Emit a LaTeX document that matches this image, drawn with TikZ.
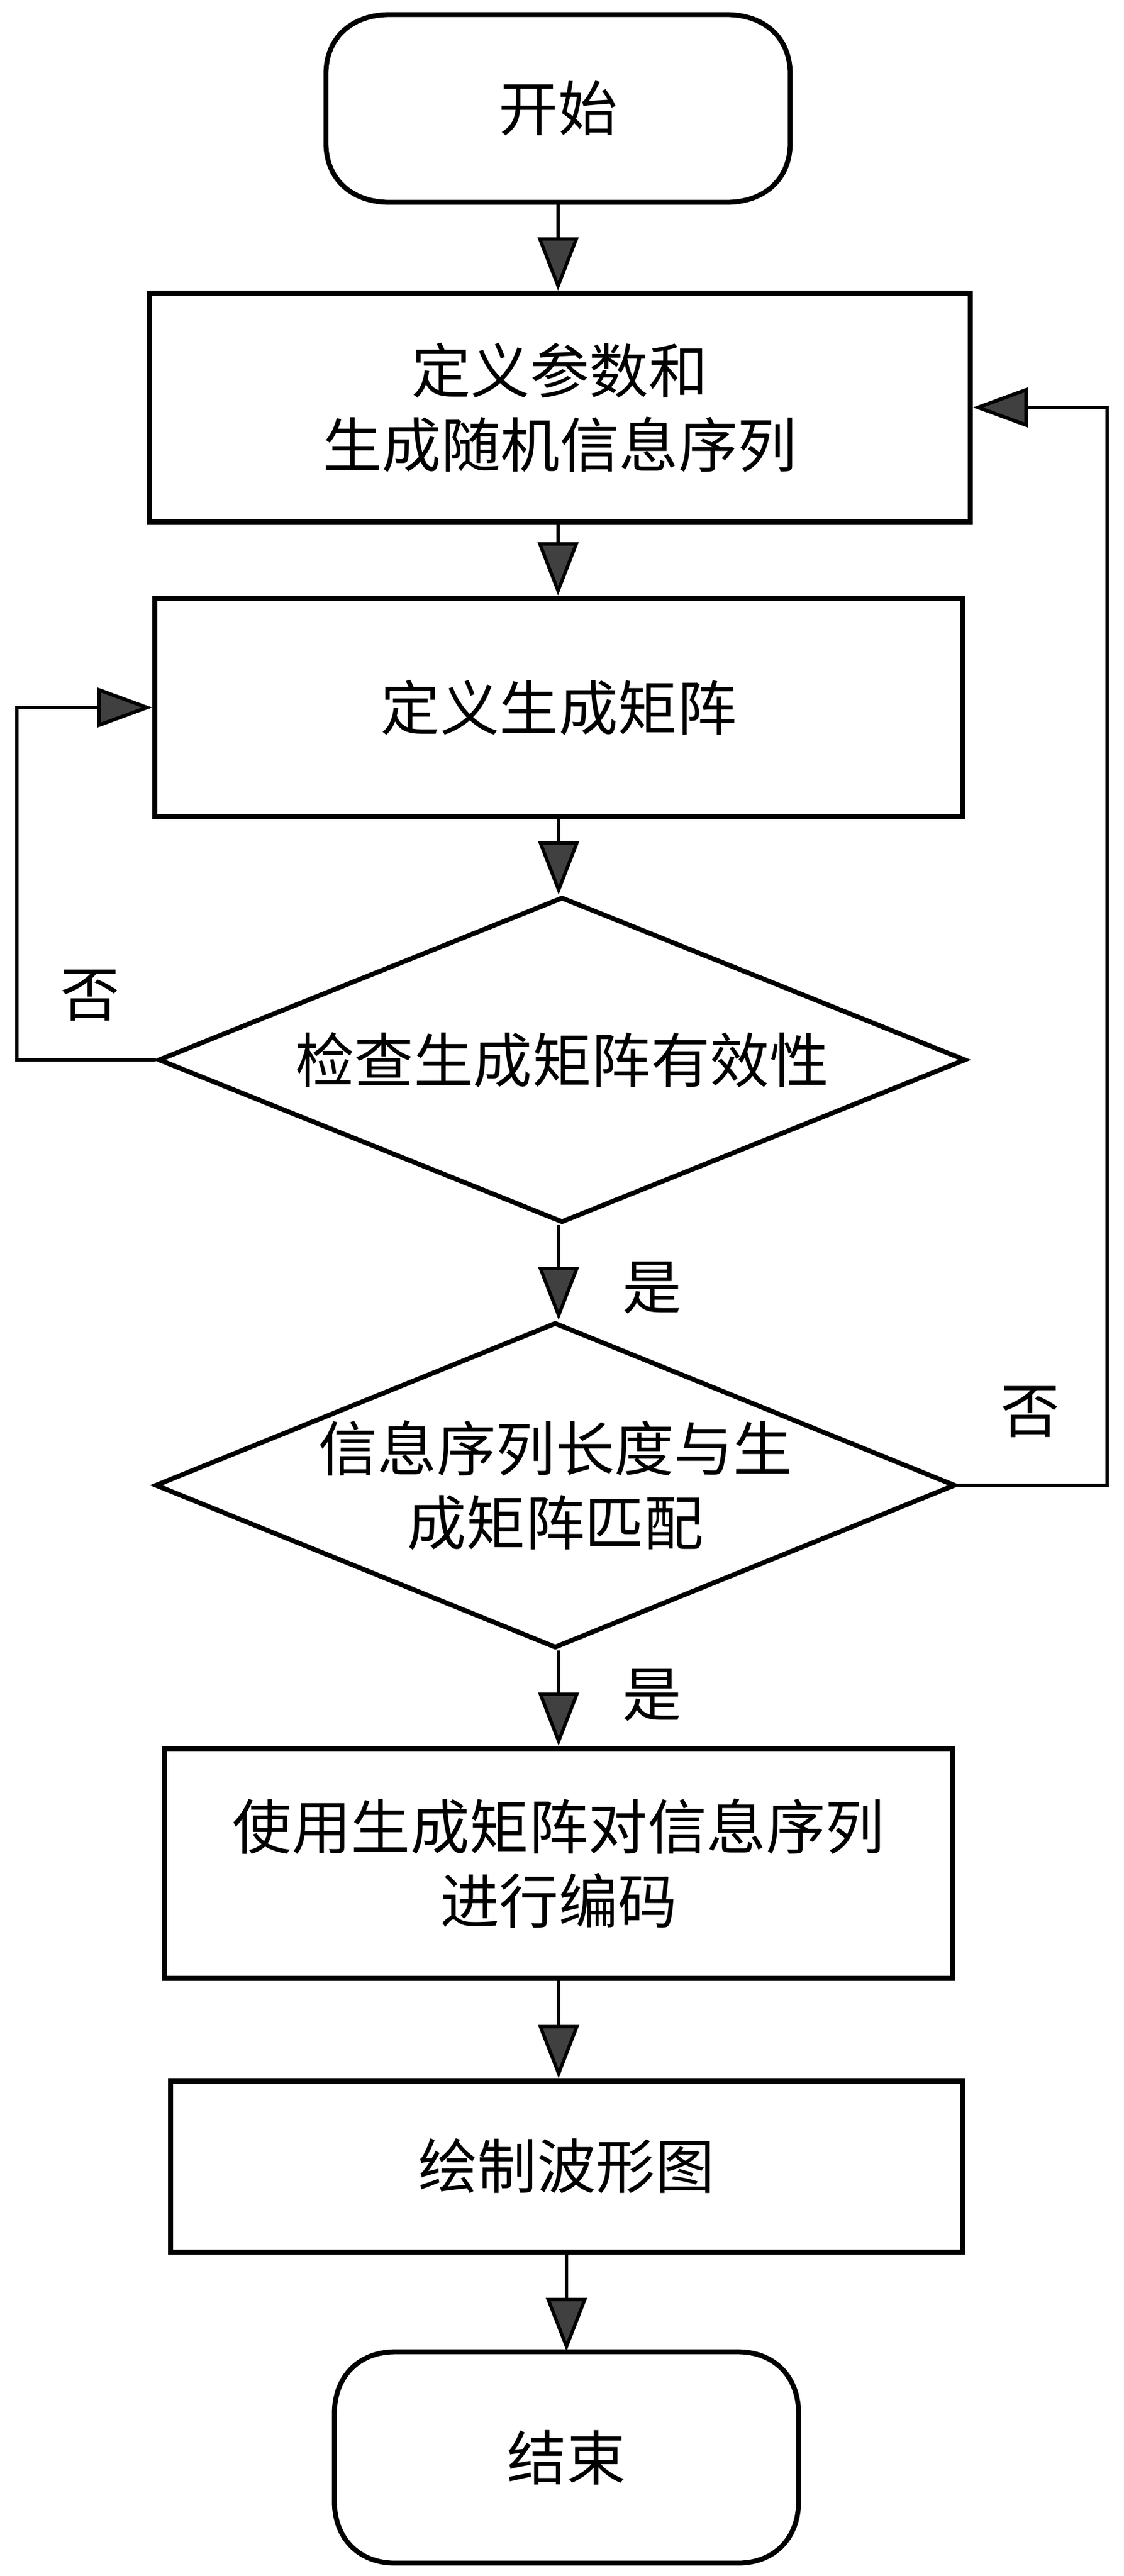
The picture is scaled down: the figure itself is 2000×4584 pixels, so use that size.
\documentclass[tikz,border=0pt]{standalone}
\usepackage{fontspec}
\setmainfont{Noto Sans CJK SC}
\usetikzlibrary{arrows.meta,shapes.geometric}
% #1 node, #2 half width W, #3 half height H, #4 half flat F, #5 corner height R
\newcommand{\barrelshape}[5]{%
  \begin{scope}[shift={(#1.center)}]
    \draw[line width=2.5pt] (-#4,-#3) -- (#4,-#3)
      .. controls (#4+0.6*#2-0.6*#4,-#3) and (#2,-#3+0.4*#5) .. (#2,-#3+#5)
      -- (#2,#3-#5)
      .. controls (#2,#3-0.4*#5) and (#4+0.6*#2-0.6*#4,#3) .. (#4,#3)
      -- (-#4,#3)
      .. controls (-#4-0.6*#2+0.6*#4,#3) and (-#2,#3-0.4*#5) .. (-#2,#3-#5)
      -- (-#2,-#3+#5)
      .. controls (-#2,-#3+0.4*#5) and (-#4-0.6*#2+0.6*#4,-#3) .. cycle;
  \end{scope}}
\begin{document}
\begin{tikzpicture}[x=0.01cm,y=-0.01cm,
  every node/.style={font=\fontsize{30pt}{37.5pt}\selectfont, inner sep=0pt, align=center},
  proc/.style={draw, line width=2.6pt, rectangle},
  dec/.style={draw, line width=2.4pt, diamond, shape aspect=2.48},
  term/.style={},
  conn/.style={line width=1.7pt, -{Triangle[length=0.95cm,width=0.72cm,fill=black!75]}},
  loopline/.style={line width=1.8pt, -{Triangle[length=0.98cm,width=0.7cm,fill=black!75]}}]
\useasboundingbox (0,0) rectangle (2000,4584);
\fill[white] (0,0) rectangle (2000,4584);

\node[term, minimum width=8.26cm, minimum height=3.34cm] (s) at (993,193) {开始};
\barrelshape{s}{413}{167}{300}{105}

\node[proc, minimum width=14.6cm, minimum height=4.06cm] (b1) at (996,725) {定义参数和\\生成随机信息序列};
\node[proc, minimum width=14.36cm, minimum height=3.89cm] (b2) at (994,1259) {定义生成矩阵};
\node[dec, minimum width=14.36cm, minimum height=5.79cm] (d1) at (1000,1886) {检查生成矩阵有效性};
\node[dec, minimum width=14.23cm, minimum height=5.79cm] (d2) at (988,2643) {信息序列长度与生\\成矩阵匹配};
\node[proc, minimum width=14.03cm, minimum height=4.09cm] (b3) at (994,3316) {使用生成矩阵对信息序列\\进行编码};
\node[proc, minimum width=14.08cm, minimum height=3.04cm] (b4) at (1008,3855) {绘制波形图};
\node[term, minimum width=8.27cm, minimum height=3.76cm] (e) at (1008,4373) {结束};
\barrelshape{e}{413}{188}{305}{110}

% labels
\node (no1) at (160,1771) {否};
\node (yes1) at (1160,2292) {是};
\node (no2) at (1833,2512) {否};
\node (yes2) at (1160,3017) {是};

% main connectors
\draw[conn] (s.south) -- (s.south |- b1.north);
\draw[conn] (b1.south -| s.south) -- (s.south |- b2.north);
\draw[conn] (b2.south) -- (b2.south |- d1.north);
\draw[conn] (d1.south -| b2.south) -- (b2.south |- d2.north);
\draw[conn] (d2.south -| b2.south) -- (b2.south |- b3.north);
\draw[conn] (b3.south) -- (b3.south |- b4.north);
\draw[conn] (e.north |- b4.south) -- (e.north);

% loops
\coordinate (ll) at (30,1259);
\draw[loopline] (d1.west) -| (ll) -- (b2.west);
\coordinate (rr) at (1970,725);
\draw[loopline] (d2.east) -| (rr) -- (b1.east);
\end{tikzpicture}
\end{document}
